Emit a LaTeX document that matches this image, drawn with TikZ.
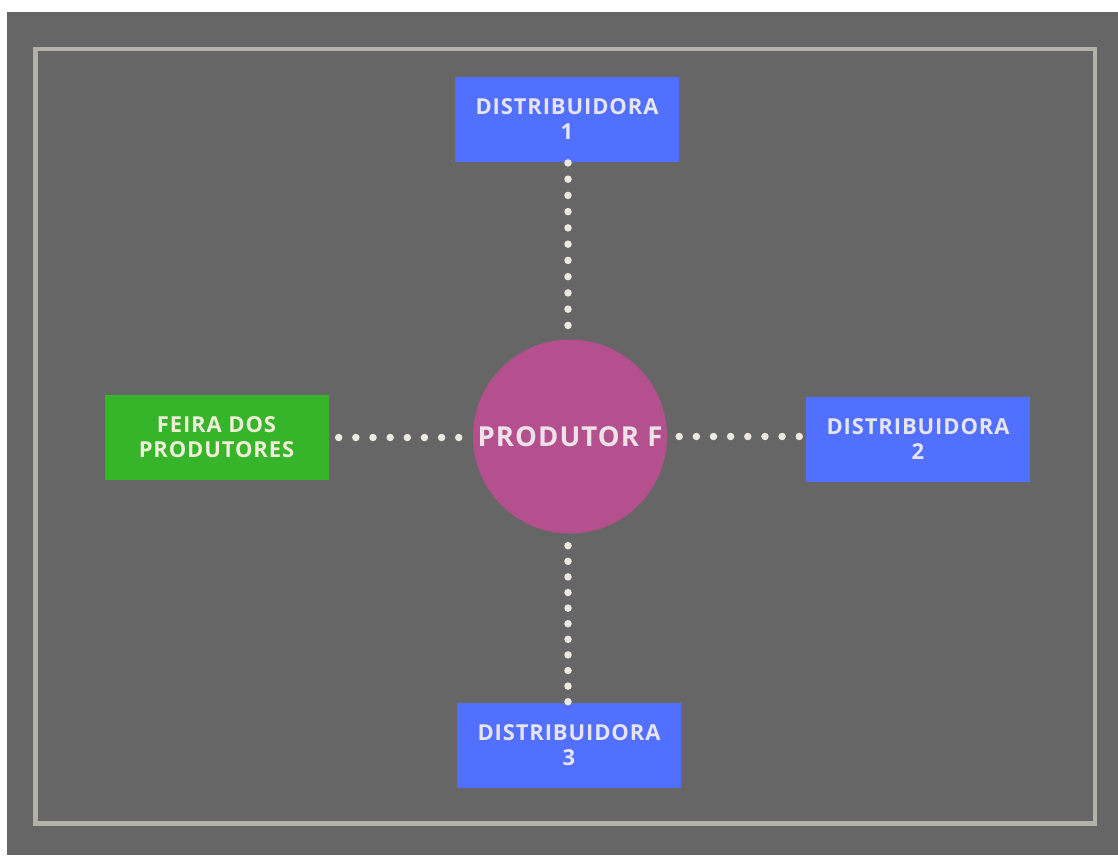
\documentclass[tikz,border=0pt]{standalone}
\usepackage{fontspec}
\setmainfont{Open Sans}
\newfontfamily\boxfont[LetterSpace=4]{Open Sans}
\newfontfamily\circfont[LetterSpace=4]{Open Sans}
\definecolor{bggray}{HTML}{666666}
\definecolor{framec}{HTML}{B2B2A8}
\definecolor{bluebox}{HTML}{5170FF}
\definecolor{greenbox}{HTML}{36B52B}
\definecolor{circc}{HTML}{B4508E}
\definecolor{bluetext}{HTML}{E6E4EE}
\definecolor{greentext}{HTML}{F0EED8}
\definecolor{circtext}{HTML}{EEE2E8}
\definecolor{dotc}{HTML}{ECEAE0}
\begin{document}
\begin{tikzpicture}[x=1pt,y=-1pt,
  boxnode/.style={rectangle, minimum width=224pt, minimum height=85pt, inner sep=0pt,
    align=center, font={\boxfont\bfseries\fontsize{22}{25}\selectfont}},
  bluenode/.style={boxnode, fill=bluebox, text=bluetext},
  greennode/.style={boxnode, fill=greenbox, text=greentext},
  circnode/.style={circle, minimum size=194pt, inner sep=0pt, fill=circc, text=circtext,
    font={\circfont\bfseries\fontsize{27.5}{30}\selectfont}},
  dotline/.style={draw=dotc, line width=7.5pt, line cap=round}]
\useasboundingbox (0,0) rectangle (1118,855);
\fill[white] (0,0) rectangle (1118,855);
\fill[bggray] (7,12) rectangle (1118,855);
\draw[framec, line width=4.5pt] (35.5,49) rectangle (1095,823.5);

\node[circnode] (c) at (570,436.5) {PRODUTOR F};
\node[bluenode] (d1) at (567,119.5) {DISTRIBUIDORA\\1};
\node[greennode] (f) at (216.5,437.5) {FEIRA DOS\\PRODUTORES};
\node[bluenode] (d2) at (918,439.5) {DISTRIBUIDORA\\2};
\node[bluenode] (d3) at (569,745.5) {DISTRIBUIDORA\\3};

\draw[dotline, dash pattern=on 0pt off 17.15pt, shorten <=10pt, shorten >=13.5pt] (f.east) -- (f.east -| c.west);
\draw[dotline, dash pattern=on 0pt off 17.15pt, shorten <=12pt, shorten >=5.5pt] (c.east) -- (c.east -| d2.west);
\draw[dotline, dash pattern=on 0pt off 16.25pt, shorten <=0.7pt, shorten >=13.5pt] ([xshift=1pt]d1.south) -- ([xshift=1pt]d1.south |- c.north);
\draw[dotline, dash pattern=on 0pt off 15.6pt, shorten <=12pt, shorten >=0.5pt] ([xshift=-1pt]d3.north |- c.south) -- ([xshift=-1pt]d3.north);
\end{tikzpicture}
\end{document}
